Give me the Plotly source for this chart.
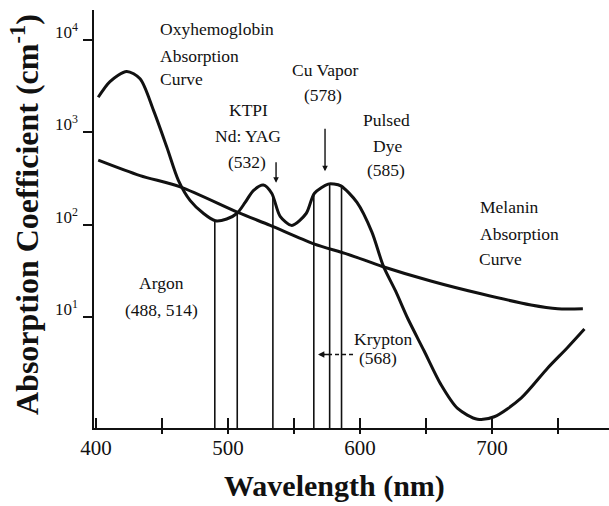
import numpy as np
import plotly.graph_objects as go

# ---------------- data ----------------
oxy_wavelength = [401.7, 410.6, 423.3, 433.4, 443.5, 453.7, 462.5, 471.4, 481.5, 490.5,
                  499.0, 506.7, 513.0, 519.2, 526.8, 533.1, 539.5, 548.4, 559.2, 565.5,
                  575.9, 580.2, 585.5, 597.7, 609.0, 617.7, 627.0, 635.9, 648.5, 661.2,
                  673.9, 689.0, 701.7, 722.0, 742.2, 757.4, 770.0]
oxy_absorption = [2400, 3550, 4570, 3800, 1740, 690, 300, 182, 132, 110,
                  115, 132, 174, 234, 269, 219, 123, 98, 132, 219,
                  275, 275, 263, 174, 83, 35.5, 19, 9.8, 4.3, 1.86,
                  1.02, 0.78, 0.83, 1.32, 2.8, 4.7, 7.4]

melanin_wavelength = [401.7, 433.4, 463.8, 508.0, 532.0, 565.0, 590.3, 617.5, 653.6,
                      691.6, 729.5, 749.8, 768.8]
melanin_absorption = [500, 340, 257, 135, 98, 62, 48, 35, 24.5, 17.8, 13.5, 12.3, 12.3]

# laser lines as drawn (nm)
laser_lines = [490, 507, 534, 565, 577, 586]

x_tick_values = [400, 500, 600, 700]
x_minor_ticks = [450, 550, 650, 750]
x_all_ticks = [450, 500, 550, 600, 650, 700, 750]
y_tick_values = [10, 100, 1000, 10000]
y_tick_labels = ["10<sup>1</sup>", "10<sup>2</sup>", "10<sup>3</sup>", "10<sup>4</sup>"]

# ---------------- layout geometry ----------------
W, H = 609, 506
L, R, T, B = 94, 0, 10, 78
PW, PH = W - L - R, H - T - B
X_RANGE = [398.5, 788.6]
Y_RANGE = [-0.203, 4.325]
SERIF = "Liberation Serif, Times New Roman, serif"
INK = "#111111"


def pxx(px):
    return (px - L) / PW


def pxy(py):
    return (T + PH - py) / PH


fig = go.Figure()

fig.add_trace(go.Scatter(x=oxy_wavelength, y=oxy_absorption, mode="lines",
                         line=dict(color=INK, width=3, shape="spline", smoothing=0.8),
                         hoverinfo="skip", showlegend=False))
fig.add_trace(go.Scatter(x=melanin_wavelength, y=melanin_absorption, mode="lines",
                         line=dict(color=INK, width=3, shape="spline", smoothing=0.8),
                         hoverinfo="skip", showlegend=False))

# vertical laser lines from the axis up to the oxyhemoglobin curve
log_oxy = np.log10(oxy_absorption)
for lam in laser_lines:
    top = 10 ** np.interp(lam, oxy_wavelength, log_oxy)
    fig.add_trace(go.Scatter(x=[lam, lam], y=[10 ** Y_RANGE[0], top], mode="lines",
                             line=dict(color=INK, width=1.6), hoverinfo="skip",
                             showlegend=False))

# krypton dashed pointer
fig.add_trace(go.Scatter(x=[594.7, 572], y=[10 ** 0.593, 10 ** 0.593], mode="lines",
                         line=dict(color=INK, width=1.4, dash="4px,3px"),
                         hoverinfo="skip", showlegend=False))

annotations = []
label_font = dict(family=SERIF, size=17.5, color=INK)
labels = [
    ("Oxyhemoglobin", 158, 29, "left"),
    ("Absorption", 158, 56, "left"),
    ("Curve", 158, 79, "left"),
    ("Cu Vapor", 325, 70, "center"),
    ("(578)", 323, 95, "center"),
    ("KTPI", 248, 110, "center"),
    ("Nd: YAG", 248, 136, "center"),
    ("(532)", 247, 162, "center"),
    ("Pulsed", 386, 120, "center"),
    ("Dye", 387, 146, "center"),
    ("(585)", 386, 170, "center"),
    ("Melanin", 478, 207, "left"),
    ("Absorption", 478, 234, "left"),
    ("Curve", 477, 259, "left"),
    ("Argon", 161, 283, "center"),
    ("(488, 514)", 161, 310, "center"),
    ("Krypton", 352, 339, "left"),
    ("(568)", 357, 358, "left"),
]
for text, x, y, anchor in labels:
    annotations.append(dict(text=text, x=pxx(x), y=pxy(y), xref="paper", yref="paper",
                            xanchor=anchor, yanchor="middle", showarrow=False,
                            font=label_font))

# arrows
annotations.append(dict(x=536.4, y=2.453, xref="x", yref="y", ax=0, ay=-22, text="",
                        showarrow=True, arrowhead=2, arrowsize=0.8, arrowwidth=1.4,
                        arrowcolor=INK))
annotations.append(dict(x=573.5, y=2.578, xref="x", yref="y", ax=0, ay=-44, text="",
                        showarrow=True, arrowhead=2, arrowsize=0.8, arrowwidth=1.4,
                        arrowcolor=INK))
annotations.append(dict(x=568.2, y=0.593, xref="x", yref="y", ax=12, ay=0, text="",
                        showarrow=True, arrowhead=2, arrowsize=0.9, arrowwidth=1.4,
                        arrowcolor=INK))

# y tick labels
for v, t in zip(y_tick_values, y_tick_labels):
    annotations.append(dict(text=t, x=0, y=np.log10(v), xref="paper", yref="y",
                            xanchor="right", yanchor="middle", xshift=-14, yshift=9,
                            showarrow=False, font=dict(family=SERIF, size=17, color=INK)))

# axis titles
annotations.append(dict(text="<b>Absorption Coefficient (cm<sup>-1</sup>)</b>",
                        x=pxx(25), y=pxy(215), xref="paper", yref="paper", textangle=-90,
                        xanchor="center", yanchor="middle", showarrow=False,
                        font=dict(family=SERIF, size=32, color=INK)))
annotations.append(dict(text="<b>Wavelength (nm)</b>",
                        x=pxx(334), y=pxy(486), xref="paper", yref="paper",
                        xanchor="center", yanchor="middle", showarrow=False,
                        font=dict(family=SERIF, size=30, color=INK)))

fig.update_layout(
    width=W, height=H,
    margin=dict(l=L, r=R, t=T, b=B, pad=0),
    paper_bgcolor="white", plot_bgcolor="white",
    showlegend=False,
    annotations=annotations,
    xaxis=dict(range=X_RANGE, showgrid=False, zeroline=False, showline=True,
               linecolor=INK, linewidth=2, tickmode="array", tickvals=x_tick_values,
               ticks="inside", ticklen=10, tickwidth=1.5,
               tickcolor=INK, tickfont=dict(family=SERIF, size=21, color=INK)),
    xaxis2=dict(range=X_RANGE, overlaying="x", anchor="y", side="bottom",
                showgrid=False, zeroline=False, showline=False, tickmode="array",
                tickvals=x_minor_ticks, ticks="inside", ticklen=10, tickwidth=1.5,
                tickcolor=INK, showticklabels=False),
    xaxis3=dict(range=X_RANGE, overlaying="x", anchor="y", side="bottom",
                showgrid=False, zeroline=False, showline=False, tickmode="array",
                tickvals=x_all_ticks, ticks="outside", ticklen=5, tickwidth=1.5,
                tickcolor=INK, showticklabels=False),
    yaxis=dict(type="log", range=Y_RANGE, showgrid=False, zeroline=False,
               showline=True, linecolor=INK, linewidth=2, tickmode="array",
               tickvals=y_tick_values, ticks="outside", ticklen=9, tickwidth=1.5,
               tickcolor=INK, showticklabels=False),
)

# invisible points so the tick-only overlay axes are drawn
for ax_name in ["x2", "x3"]:
    fig.add_trace(go.Scatter(x=[X_RANGE[0]], y=[10 ** Y_RANGE[0]], xaxis=ax_name,
                             mode="markers", marker=dict(opacity=0), hoverinfo="skip",
                             showlegend=False))

fig.write_html("out.html",
               config={"displayModeBar": False},
               post_script="document.body.style.margin='0px';"
                           "document.body.style.padding='0px';")
